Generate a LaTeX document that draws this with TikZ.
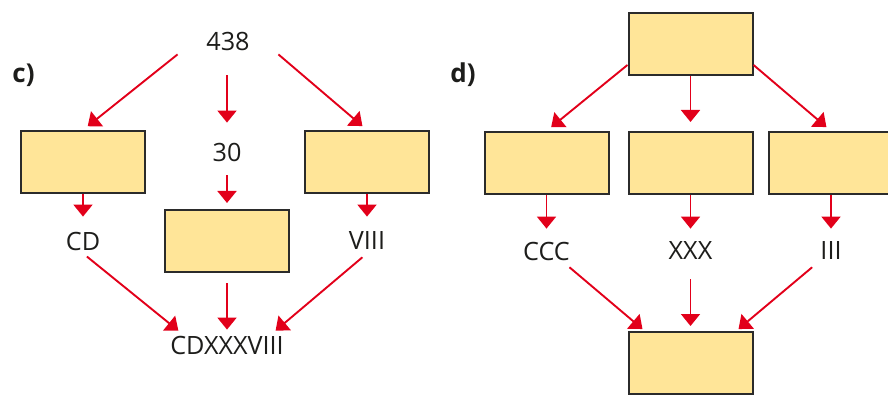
\documentclass[tikz,border=0pt]{standalone}
\usepackage{fontspec}
\setmainfont{Open Sans}
\usetikzlibrary{arrows.meta}

\definecolor{boxfill}{HTML}{FFE598}
\definecolor{boxline}{HTML}{2B2B2B}
\definecolor{numtext}{HTML}{1D1D1B}
\definecolor{arrowred}{HTML}{E2001A}

\begin{document}
\begin{tikzpicture}[x=0.5pt,y=-0.5pt]

        \tikzset{arrow/.style = {draw=arrowred, line width=0.95pt, -{Triangle[width=9.5pt,length=6pt]}, shorten >=3pt}, }
        \tikzset{numbox/.style = {rectangle, draw=boxline, line width=1pt, fill=boxfill, minimum width=62pt, minimum height=31pt, inner sep=0pt}, }
        \tikzset{numeral/.style = {font=\fontsize{12.6}{14}\selectfont, text=numtext, minimum width=50pt, minimum height=12pt, inner sep=0pt}, }
        \tikzset{partlabel/.style = {font=\fontsize{13}{15}\selectfont\bfseries, text=numtext, anchor=west, inner sep=0pt} }

        \useasboundingbox (0,0) rectangle (888,395);

        % part c)
        \node[partlabel] (labc) at (12,75) {c)};
        \node[numeral] (t438) at (228,42) {438};
        \node[numbox] (cL) at (83,162) {};
        \node[numeral] (t30) at (227,152) {30};
        \node[numbox] (cR) at (367,162) {};
        \node[numbox] (cM) at (227,241) {};
        \node[numeral] (tCD) at (83,241) {CD};
        \node[numeral] (tVIII) at (367,241) {VIII};
        \node[numeral] (tCDX) at (227,345) {CDXXXVIII};

        \draw[arrow] (t438.south west) -- (cL.north);
        \draw[arrow, shorten <=10.5pt, shorten >=8.5pt] (t438.south -| t30) -- (t30.north);
        \draw[arrow] (t438.south east) -- (cR.north);
        \draw[arrow, shorten <=5.5pt] (t30.south) -- (cM.north);
        \draw[arrow, shorten >=6pt] (cL.south) -- (tCD.north);
        \draw[arrow, shorten >=6pt] (cR.south) -- (tVIII.north);
        \draw[arrow, shorten <=2.5pt, shorten >=1.5pt] (tCD.south) -- (tCDX.165);
        \draw[arrow, shorten <=5pt, shorten >=1.5pt] (cM.south) -- (tCDX.north);
        \draw[arrow, shorten <=3pt, shorten >=1.5pt] (tVIII.south) -- (tCDX.15);

        % part d)
        \node[partlabel] (labd) at (450,75) {d)};
        \node[numbox] (dT) at (690.5,44.5) {};
        \node[numbox] (dL) at (546.5,163) {};
        \node[numbox] (dM) at (690.5,163) {};
        \node[numbox] (dR) at (831,163) {};
        \node[numeral] (tCCC) at (546.5,251) {CCC};
        \node[numeral] (tXXX) at (690.5,251) {XXX};
        \node[numeral] (tIII) at (831,251) {III};
        \node[numbox] (dB) at (690.5,363) {};

        \draw[arrow] (dT.198) -- (dL.north);
        \draw[arrow, shorten >=4.5pt] (dT.south) -- (dM.north);
        \draw[arrow] (dT.342) -- (dR.north);
        \draw[arrow, shorten >=5pt] (dL.south) -- (tCCC.north);
        \draw[arrow, shorten >=5pt] (dM.south) -- (tXXX.north);
        \draw[arrow, shorten >=5pt] (dR.south) -- (tIII.north);
        \draw[arrow, shorten <=3pt, shorten >=1.5pt] (tCCC.326) -- (dB.145);
        \draw[arrow, shorten <=8pt, shorten >=2.5pt] (tXXX.south) -- (dB.north);
        \draw[arrow, shorten <=3pt, shorten >=1.5pt] (tIII.221) -- (dB.35);

\end{tikzpicture}
\end{document}
